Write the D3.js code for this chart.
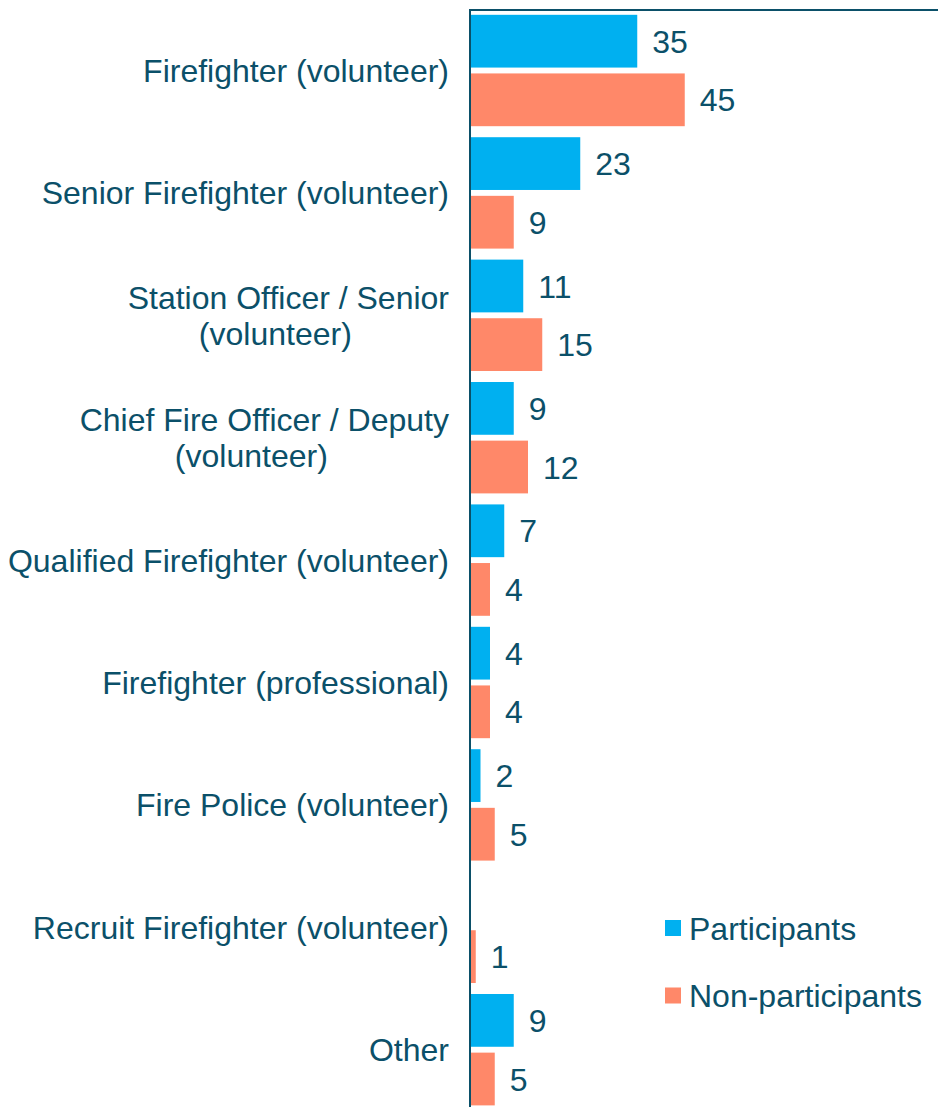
<!DOCTYPE html>
<html><head><meta charset="utf-8">
<script src="https://cdn.jsdelivr.net/npm/d3@7"></script>
<style>body{margin:0;background:#fff}svg{display:block}</style>
</head><body>
<svg id="chart" width="938" height="1107"></svg>
<script>
const categories = [
  ["Firefighter (volunteer)"],
  ["Senior Firefighter (volunteer)"],
  ["Station Officer / Senior", "(volunteer)"],
  ["Chief Fire Officer / Deputy", "(volunteer)"],
  ["Qualified Firefighter (volunteer)"],
  ["Firefighter (professional)"],
  ["Fire Police (volunteer)"],
  ["Recruit Firefighter (volunteer)"],
  ["Other"]
];
const participants = [35, 23, 11, 9, 7, 4, 2, 0, 9];
const nonParticipants = [45, 9, 15, 12, 4, 4, 5, 1, 5];
const seriesNames = ["Participants", "Non-participants"];
const colors = ["#00B0F0", "#FF8869"];
const textColor = "#0B5069";

const svg = d3.select("#chart");
const font = "'Liberation Sans', Arial, sans-serif";
const fs = 32;
const x0 = 470;
const x = d3.scaleLinear().domain([0, 45]).range([x0, x0 + 45 * 4.75]);
const y = d3.scaleBand().domain(d3.range(categories.length)).range([9.3, 1110.9]).paddingInner(0.09).paddingOuter(0.045);
const ySub = d3.scaleBand().domain([0, 1]).range([0, y.bandwidth()]).paddingInner(0.1);

const series = [participants, nonParticipants];
series.forEach((vals, s) => {
  const data = vals.map((v, i) => ({v, i}));
  const g = svg.append("g");
  g.selectAll("rect").data(data).join("rect")
    .attr("x", x(0) + 1)
    .attr("y", d => y(d.i) + ySub(s))
    .attr("width", d => Math.max(0, x(d.v) - x(0)))
    .attr("height", ySub.bandwidth())
    .attr("fill", colors[s]);
  g.selectAll("text").data(data.filter(d => d.v > 0)).join("text")
    .attr("x", d => x(d.v) + 16)
    .attr("y", d => y(d.i) + ySub(s) + ySub.bandwidth() / 2)
    .attr("dy", "0.36em")
    .attr("font-family", font).attr("font-size", fs)
    .attr("fill", textColor)
    .text(d => d.v);
});

// category labels
const lab = svg.append("g");
categories.forEach((lines, i) => {
  const cy = y(i) + y.bandwidth() / 2;
  const t = lab.append("text")
    .attr("font-family", font).attr("font-size", fs).attr("fill", textColor);
  const lh = 36;
  lines.forEach((ln, j) => {
    t.append("tspan").attr("x", 0).attr("y", cy + (j - (lines.length - 1) / 2) * lh).attr("dy", "0.36em").text(ln);
  });
  const spans = t.selectAll("tspan").nodes();
  const maxW = d3.max(spans.map(n => n.getComputedTextLength()));
  const right = 449;
  spans.forEach((n, j) => {
    d3.select(n).attr("x", right - maxW / 2 - (j > 0 ? 13 : 0)).attr("text-anchor", "middle");
  });
});

// axis line and top border
svg.append("line").attr("x1", x0).attr("x2", x0).attr("y1", 9).attr("y2", 1107)
  .attr("stroke", textColor).attr("stroke-width", 2);
svg.append("line").attr("x1", x0).attr("x2", 938).attr("y1", 10).attr("y2", 10)
  .attr("stroke", textColor).attr("stroke-width", 2);

// legend
const leg = svg.append("g");
seriesNames.forEach((n, i) => {
  const ly = 928 + i * 67.5;
  leg.append("rect").attr("x", 665).attr("y", ly - 8).attr("width", 16).attr("height", 16).attr("fill", colors[i]);
  leg.append("text").attr("x", 689).attr("y", ly).attr("dy", "0.36em")
    .attr("font-family", font).attr("font-size", fs).attr("fill", textColor).text(n);
});
</script>
</body></html>
